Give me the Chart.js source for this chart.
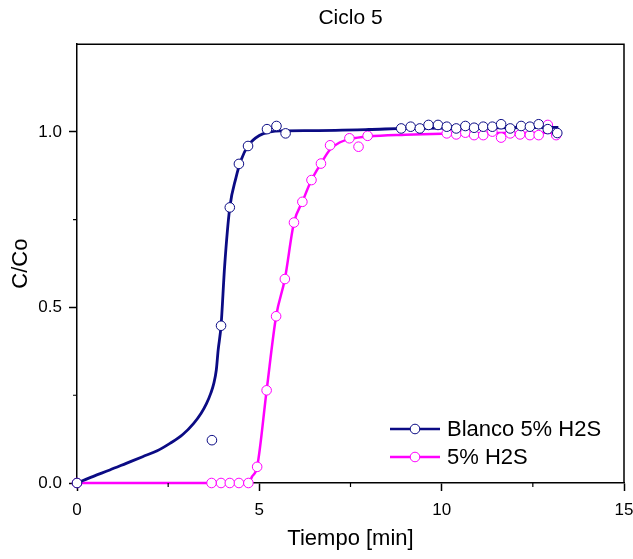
<!DOCTYPE html>
<html>
<head>
<meta charset="utf-8">
<script src="https://cdn.jsdelivr.net/npm/chart.js@4/dist/chart.umd.min.js"></script>
<style>
  html, body { margin: 0; padding: 0; background: #fff; }
  #wrap { width: 633px; height: 559px; position: relative; }
</style>
</head>
<body>
<div id="wrap"><canvas id="chart"></canvas></div>
<script>
// Measured points, Blanco 5% H2S
const blancoTime = [0, 3.70, 3.95, 4.19, 4.44, 4.69, 5.21, 5.47, 5.72, 8.89, 9.15, 9.40, 9.64, 9.90,
                    10.14, 10.40, 10.65, 10.89, 11.14, 11.39, 11.63, 11.88, 12.18, 12.42, 12.66, 12.91, 13.17];
const blancoCC   = [0, 0.122, 0.448, 0.785, 0.909, 0.960, 1.008, 1.017, 0.996, 1.010, 1.015, 1.010, 1.020, 1.020,
                    1.015, 1.010, 1.017, 1.012, 1.015, 1.015, 1.022, 1.010, 1.017, 1.015, 1.022, 1.008, 0.997];

// Measured points, 5% H2S
const h2sTime = [0, 3.69, 3.95, 4.19, 4.44, 4.70, 4.94, 5.20, 5.46, 5.70, 5.95, 6.18, 6.43, 6.69, 6.94,
                 7.47, 7.72, 7.97, 10.14, 10.40, 10.65, 10.89, 11.14, 11.39, 11.63, 11.88, 12.15, 12.42,
                 12.66, 12.91, 13.14];
const h2sCC   = [0, 0, 0, 0, 0, 0, 0.046, 0.264, 0.475, 0.581, 0.742, 0.801, 0.863, 0.910, 0.962,
                 0.982, 0.958, 0.989, 0.996, 0.993, 0.998, 0.991, 0.991, 1.001, 0.984, 0.996, 0.993, 0.991,
                 0.991, 1.020, 0.991];

// Fitted curves
const blancoFitTime = [0, 0.45, 0.9, 1.35, 1.8, 2.2, 2.55, 2.9, 3.2, 3.4, 3.55, 3.67, 3.75, 3.82, 3.87, 3.95, 4.05,
                       4.19, 4.36, 4.5, 4.7, 5.0, 5.3, 5.6, 6.5, 8.0, 9.0, 11.0, 13.2];
const blancoFitCC   = [0, 0.019, 0.037, 0.056, 0.075, 0.092, 0.113, 0.138, 0.170, 0.198, 0.226, 0.256, 0.283, 0.322,
                       0.378, 0.448, 0.620, 0.785, 0.870, 0.920, 0.962, 0.990, 1.000, 1.003, 1.004, 1.007, 1.010,
                       1.012, 1.013];

const h2sFitTime = [0, 4.70, 4.80, 4.94, 5.20, 5.46, 5.70, 5.95, 6.18, 6.43, 6.69, 6.94, 7.2, 7.5,
                    8.0, 9.0, 10.0, 11.5, 13.2];
const h2sFitCC   = [0, 0, 0.018, 0.046, 0.264, 0.475, 0.581, 0.742, 0.801, 0.863, 0.910, 0.950, 0.970, 0.980,
                    0.987, 0.992, 0.995, 0.997, 0.998];

const xMinorTicks = [2.5, 7.5, 12.5];
const yMinorTicks = [0.25, 0.75];

const seriesNames = ['Blanco 5% H2S', '5% H2S'];

const NAVY = '#0b0b84';
const MAGENTA = '#ff00ff';
const FONT = "'Liberation Sans', Arial, sans-serif";

function pairs(xs, ys) {
  return xs.map((x, i) => ({ x: x, y: ys[i] }));
}

Chart.defaults.font.family = FONT;
Chart.defaults.color = '#000';

// Frame, minor ticks and the line+marker legend
const framePlugin = {
  id: 'frame',
  afterDatasetsDraw(chart) {
    const { ctx, chartArea: a, scales } = chart;
    ctx.save();
    ctx.strokeStyle = '#000';
    ctx.lineWidth = 1.5;
    ctx.beginPath();
    ctx.moveTo(a.left, a.top);
    ctx.lineTo(a.right, a.top);
    ctx.lineTo(a.right, a.bottom);
    ctx.stroke();

    ctx.lineWidth = 1.2;
    ctx.beginPath();
    xMinorTicks.forEach(v => {
      const px = scales.x.getPixelForValue(v);
      ctx.moveTo(px, a.bottom);
      ctx.lineTo(px, a.bottom + 4);
    });
    yMinorTicks.forEach(v => {
      const py = scales.y.getPixelForValue(v);
      ctx.moveTo(a.left, py);
      ctx.lineTo(a.left - 4, py);
    });
    ctx.stroke();

    // legend
    const items = [
      { label: seriesNames[0], color: NAVY, y: 429 },
      { label: seriesNames[1], color: MAGENTA, y: 457 }
    ];
    ctx.font = '22px ' + FONT;
    ctx.textBaseline = 'middle';
    ctx.textAlign = 'left';
    items.forEach(it => {
      ctx.strokeStyle = it.color;
      ctx.lineWidth = 2.5;
      ctx.beginPath();
      ctx.moveTo(390, it.y);
      ctx.lineTo(440, it.y);
      ctx.stroke();
      ctx.beginPath();
      ctx.arc(415, it.y, 4.8, 0, Math.PI * 2);
      ctx.fillStyle = '#fff';
      ctx.fill();
      ctx.lineWidth = 1;
      ctx.stroke();
      ctx.fillStyle = '#000';
      ctx.fillText(it.label, 447, it.y + 1);
    });
    ctx.restore();
  }
};

new Chart(document.getElementById('chart'), {
  type: 'scatter',
  data: {
    datasets: [
      {
        label: seriesNames[0],
        data: pairs(blancoTime, blancoCC),
        showLine: false,
        pointRadius: 4.8,
        pointBackgroundColor: '#fff',
        pointBorderColor: NAVY,
        pointBorderWidth: 1,
        clip: false,
        order: 0
      },
      {
        label: seriesNames[0] + ' fit',
        data: pairs(blancoFitTime, blancoFitCC),
        showLine: true,
        pointRadius: 0,
        borderColor: NAVY,
        borderWidth: 2.8,
        cubicInterpolationMode: 'monotone',
        clip: false,
        order: 1
      },
      {
        label: seriesNames[1],
        data: pairs(h2sTime, h2sCC),
        showLine: false,
        pointRadius: 4.8,
        pointBackgroundColor: '#fff',
        pointBorderColor: MAGENTA,
        pointBorderWidth: 1,
        clip: false,
        order: 2
      },
      {
        label: seriesNames[1] + ' fit',
        data: pairs(h2sFitTime, h2sFitCC),
        showLine: true,
        pointRadius: 0,
        borderColor: MAGENTA,
        borderWidth: 2.5,
        cubicInterpolationMode: 'monotone',
        clip: false,
        order: 3
      }
    ]
  },
  options: {
    responsive: true,
    maintainAspectRatio: false,
    devicePixelRatio: 1,
    animation: false,
    layout: { padding: { left: 0, right: 9, top: 0, bottom: 0 } },
    plugins: {
      legend: { display: false },
      tooltip: { enabled: false },
      title: {
        display: true,
        text: 'Ciclo 5',
        fullSize: false,
        font: { size: 21, weight: 'normal' },
        padding: { top: 6, bottom: 13 }
      }
    },
    scales: {
      x: {
        type: 'linear',
        min: 0,
        max: 15,
        ticks: { stepSize: 5, font: { size: 17 }, padding: 9, maxRotation: 0 },
        grid: { drawOnChartArea: false, drawTicks: true, tickLength: 8, color: '#000', tickWidth: 1.5 },
        border: { color: '#000', width: 1.5 },
        title: { display: true, text: 'Tiempo [min]', font: { size: 22 }, padding: { top: 0, bottom: 7 } },
        afterFit(s) { s.height = 76; s.paddingLeft = 0; s.paddingRight = 0; }
      },
      y: {
        type: 'linear',
        min: 0,
        max: 1.25,
        ticks: {
          stepSize: 0.5,
          includeBounds: false,
          font: { size: 17 },
          padding: 7,
          callback: v => v.toFixed(1)
        },
        grid: { drawOnChartArea: false, drawTicks: true, tickLength: 8, color: '#000', tickWidth: 1.5 },
        border: { color: '#000', width: 1.5 },
        title: { display: true, text: 'C/Co', font: { size: 22 }, padding: { top: 8, bottom: 0 } },
        afterFit(s) { s.width = 77; s.paddingTop = 0; s.paddingBottom = 0; }
      }
    }
  },
  plugins: [framePlugin]
});
</script>
</body>
</html>
